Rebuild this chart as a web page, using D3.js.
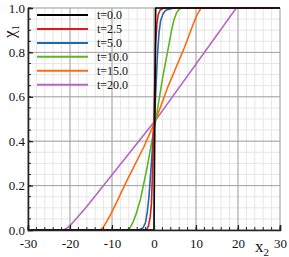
<!DOCTYPE html>
<html>
<head>
<meta charset="utf-8">
<script src="https://cdn.jsdelivr.net/npm/d3@7"></script>
<style>
body{margin:0;background:#fff}
text{font-family:"Liberation Serif","Times New Roman",serif;fill:#111}
</style>
</head>
<body>
<svg id="chart" width="289" height="257"></svg>
<script>
var serif='"Liberation Serif","Times New Roman",serif'
// series labels + colours
var labels=["t=0.0","t=2.5","t=5.0","t=10.0","t=15.0","t=20.0"]
var colors=["#000000","#e0191c","#1c6ab0","#5cb521","#ff6a10","#b466c2"]

// profiles, [x2, chi1]
var t00=[[-30,0],[0,0],[0.4,1],[30,1]]
var t25=[[-30,0],[-1.8,0],[-1.3,0.02],[-0.9,0.06],[-0.6,0.12],[-0.3,0.3],[0.1,0.6],[0.4,0.84],[0.7,0.93],[1.0,0.97],[1.5,0.992],[2.4,1],[30,1]]
var t50=[[-30,0],[-3.6,0],[-2.6,0.01],[-2.0,0.035],[-1.6,0.08],[-1.2,0.15],[-0.4,0.36],[0.3,0.57],[0.8,0.78],[1.2,0.89],[1.6,0.945],[2.2,0.975],[2.8,0.99],[4,0.997],[5.2,1],[30,1]]
var t100=[[-30,0],[-6.4,0],[-5.7,0.01],[-5.0,0.035],[-4.2,0.075],[-3.2,0.14],[-1.6,0.285],[0.4,0.495],[2,0.68],[3.2,0.8],[4.2,0.9],[4.8,0.95],[5.4,0.98],[6,0.995],[6.8,1],[30,1]]
var t150=[[-30,0],[-12.8,0],[-12,0.015],[-11.2,0.04],[-10.2,0.075],[-8.4,0.145],[-6.4,0.225],[-2.4,0.375],[0.4,0.495],[3.2,0.64],[7.2,0.82],[9.6,0.94],[10.4,0.975],[11.2,1],[30,1]]
var t200=[[-30,0],[-21.5,0],[-20.5,0.012],[-19.5,0.03],[-18,0.062],[-16,0.106],[0.4,0.495],[19.6,1],[30,1]]
var allData=[t00,t25,t50,t100,t150,t200]

var xTicks=[-30,-20,-10,0,10,20,30]
var yTicks=[0,0.2,0.4,0.6,0.8,1.0]

var svg=d3.select("#chart")
var L=28,R=280,T=8,B=230
var x=d3.scaleLinear().domain([-30,30]).range([L,R])
var y=d3.scaleLinear().domain([0,1]).range([B,T])

// minor grid
var xMinor=d3.range(-30,30.01,2)
var yMinor=d3.range(0,1.001,0.05)
svg.append("g").selectAll("line").data(xMinor).enter().append("line")
 .attr("x1",d=>x(d)).attr("x2",d=>x(d)).attr("y1",T).attr("y2",B)
 .attr("stroke","#e6e6e6").attr("stroke-width",1)
svg.append("g").selectAll("line").data(yMinor).enter().append("line")
 .attr("x1",L).attr("x2",R).attr("y1",d=>y(d)).attr("y2",d=>y(d))
 .attr("stroke","#e6e6e6").attr("stroke-width",1)
// major grid
svg.append("g").selectAll("line").data(xTicks).enter().append("line")
 .attr("x1",d=>x(d)).attr("x2",d=>x(d)).attr("y1",T).attr("y2",B)
 .attr("stroke","#a3a3a3").attr("stroke-width",1)
svg.append("g").selectAll("line").data(yTicks).enter().append("line")
 .attr("x1",L).attr("x2",R).attr("y1",d=>y(d)).attr("y2",d=>y(d))
 .attr("stroke","#a3a3a3").attr("stroke-width",1)

svg.append("clipPath").attr("id","clip").append("rect")
 .attr("x",L).attr("y",T-1).attr("width",R-L).attr("height",B-T+2)

var line=d3.line().x(d=>x(d[0])).y(d=>y(d[1]))
// draw back to front so black ends on top
var order=[5,4,3,2,1,0]
svg.append("g").attr("clip-path","url(#clip)").selectAll("path").data(order).enter().append("path")
 .attr("d",i=>line(allData[i]))
 .attr("fill","none").attr("stroke",i=>colors[i]).attr("stroke-width",1.6)
 .attr("stroke-linejoin","round")

// axes: inward ticks
var xa=d3.axisBottom(x).tickValues(xTicks).tickSize(-5).tickPadding(9).tickFormat(d3.format("d"))
var gx=svg.append("g").attr("transform","translate(0,"+B+")").call(xa)
var ya=d3.axisLeft(y).tickValues(yTicks).tickSize(-5).tickPadding(3).tickFormat(d3.format(".1f"))
var gy=svg.append("g").attr("transform","translate("+L+",0)").call(ya)
;[gx,gy].forEach(g=>{
 g.attr("font-family",serif).attr("font-size",13)
 g.select(".domain").attr("stroke","#222").attr("stroke-width",1.6)
 g.selectAll(".tick line").attr("stroke","#222").attr("stroke-width",1.2)
 g.selectAll("text").style("font-family",serif).style("font-size","13px").attr("fill","#111")
})
gx.selectAll(".tick text").text(d=>String(d).replace("\u2212","-"))
// minor ticks
svg.append("g").selectAll("line").data(xMinor).enter().append("line")
 .attr("x1",d=>x(d)).attr("x2",d=>x(d)).attr("y1",B).attr("y2",B-3).attr("stroke","#222")
svg.append("g").selectAll("line").data(yMinor).enter().append("line")
 .attr("x1",L).attr("x2",L+3).attr("y1",d=>y(d)).attr("y2",d=>y(d)).attr("stroke","#222")

// axis titles
var xt=svg.append("text").attr("x",255).attr("y",252).style("font-size","17px")
xt.append("tspan").text("x")
xt.append("tspan").style("font-size","11px").attr("dy",4).text("2")
var yt=svg.append("text").attr("transform","translate(15,38) rotate(-90)").style("font-size","17px")
yt.append("tspan").text("\u03c7")
yt.append("tspan").style("font-size","11px").attr("dy",4).text("1")

// legend
var leg=svg.append("g").selectAll("g").data(labels).enter().append("g")
 .attr("transform",(d,i)=>"translate(0,"+(15+i*13.95)+")")
leg.append("line").attr("x1",37).attr("x2",88).attr("y1",0).attr("y2",0)
 .attr("stroke",(d,i)=>colors[i]).attr("stroke-width",2)
leg.append("text").attr("x",97).attr("y",4).style("font-size","12px").text(d=>d)
</script>
</body>
</html>
